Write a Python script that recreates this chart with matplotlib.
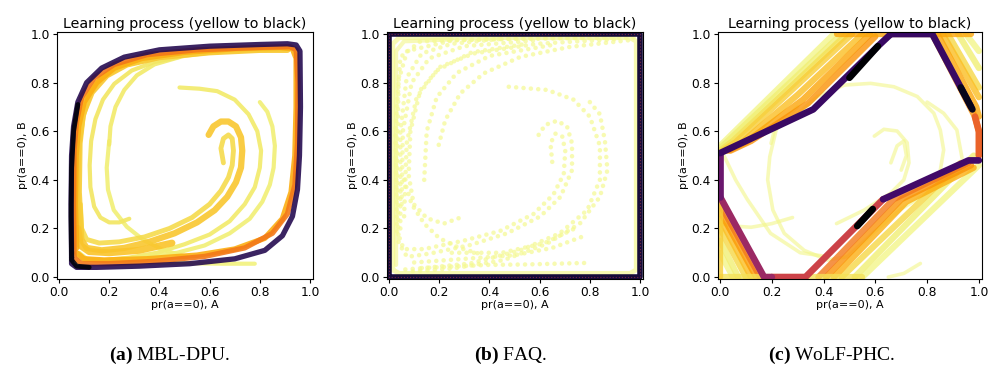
import matplotlib
matplotlib.use("Agg")
import matplotlib.pyplot as plt

plt.rcParams['mathtext.fontset'] = 'custom'
plt.rcParams['mathtext.bf'] = 'Liberation Serif:bold'
plt.rcParams['mathtext.rm'] = 'Liberation Serif'

title = 'Learning process (yellow to black)'
xlabel = 'pr(a==0), A'
ylabel = 'pr(a==0), B'
captions = [r'$\mathbf{(a)}$ MBL-DPU.', r'$\mathbf{(b)}$ FAQ.', r'$\mathbf{(c)}$ WoLF-PHC.']

# ---- (a) MBL-DPU: trajectories, (x, y) waypoints
mbl_start_top = [(0.48, 0.78), (0.56, 0.775), (0.63, 0.765), (0.70, 0.73), (0.755, 0.67), (0.79, 0.60),
                 (0.805, 0.52), (0.80, 0.45), (0.78, 0.37), (0.74, 0.30), (0.68, 0.23), (0.60, 0.175),
                 (0.50, 0.135), (0.39, 0.10), (0.28, 0.08), (0.18, 0.07), (0.11, 0.075), (0.08, 0.10)]
mbl_start_right = [(0.80, 0.72), (0.83, 0.68), (0.85, 0.62), (0.86, 0.54), (0.855, 0.45), (0.84, 0.38),
                   (0.81, 0.31), (0.76, 0.24), (0.68, 0.18), (0.58, 0.13), (0.47, 0.10), (0.36, 0.085),
                   (0.25, 0.075)]
mbl_hook_outer = [(0.596, 0.585), (0.615, 0.62), (0.645, 0.64), (0.675, 0.64), (0.705, 0.62), (0.725, 0.575),
                  (0.73, 0.52), (0.725, 0.45), (0.705, 0.39), (0.67, 0.33), (0.62, 0.275), (0.55, 0.225),
                  (0.46, 0.18), (0.36, 0.145), (0.26, 0.12), (0.17, 0.11), (0.11, 0.12), (0.085, 0.16),
                  (0.075, 0.25), (0.072, 0.40), (0.078, 0.55), (0.095, 0.67), (0.13, 0.76), (0.19, 0.83),
                  (0.27, 0.875), (0.40, 0.905), (0.60, 0.925), (0.80, 0.935), (0.91, 0.935)]
mbl_hook_inner = [(0.655, 0.47), (0.645, 0.53), (0.655, 0.57), (0.675, 0.585), (0.69, 0.57), (0.695, 0.52),
                  (0.69, 0.46), (0.675, 0.41), (0.645, 0.355), (0.60, 0.30), (0.53, 0.245), (0.44, 0.20),
                  (0.34, 0.165), (0.24, 0.145), (0.16, 0.14), (0.11, 0.155), (0.09, 0.20), (0.085, 0.30)]
mbl_start_left = [(0.28, 0.24), (0.24, 0.225), (0.20, 0.225), (0.165, 0.245), (0.14, 0.29), (0.125, 0.37),
                  (0.122, 0.46), (0.128, 0.56), (0.145, 0.65), (0.175, 0.73), (0.22, 0.795), (0.29, 0.85),
                  (0.38, 0.885), (0.50, 0.91), (0.65, 0.93), (0.80, 0.94)]
mbl_start_mid = [(0.20, 0.545), (0.205, 0.62), (0.225, 0.70), (0.26, 0.77), (0.31, 0.83), (0.38, 0.875),
                 (0.48, 0.905)]
mbl_cross = [(0.20, 0.56), (0.19, 0.45), (0.195, 0.36), (0.218, 0.276), (0.27, 0.207), (0.337, 0.152),
             (0.417, 0.111), (0.51, 0.083)]
mbl_start_bottom = [(0.78, 0.055), (0.65, 0.055), (0.50, 0.057), (0.35, 0.06), (0.20, 0.065), (0.10, 0.07),
                    (0.07, 0.09)]
mbl_loop_gold = [(0.09, 0.16), (0.08, 0.35), (0.083, 0.55), (0.095, 0.66), (0.12, 0.75), (0.17, 0.82),
                 (0.25, 0.87), (0.38, 0.905), (0.55, 0.925), (0.75, 0.935), (0.90, 0.94)]
mbl_loop_gold_low = [(0.45, 0.14), (0.32, 0.11), (0.20, 0.10), (0.12, 0.105), (0.085, 0.13), (0.075, 0.20)]
mbl_loop_orange = [(0.07, 0.12), (0.065, 0.30), (0.068, 0.50), (0.078, 0.62), (0.10, 0.72), (0.15, 0.80),
                   (0.22, 0.86), (0.33, 0.90), (0.50, 0.925), (0.70, 0.94), (0.88, 0.945), (0.93, 0.94),
                   (0.945, 0.90), (0.945, 0.70), (0.94, 0.50), (0.925, 0.35), (0.89, 0.24), (0.82, 0.16),
                   (0.70, 0.115), (0.55, 0.09), (0.35, 0.075), (0.18, 0.07), (0.10, 0.075), (0.07, 0.10)]
mbl_loop_late = [(0.06, 0.08), (0.058, 0.30), (0.06, 0.52), (0.07, 0.64), (0.09, 0.74), (0.14, 0.82),
                 (0.22, 0.875), (0.35, 0.915), (0.55, 0.935), (0.80, 0.945), (0.92, 0.948), (0.945, 0.935),
                 (0.952, 0.80), (0.95, 0.55), (0.94, 0.38), (0.91, 0.26), (0.85, 0.18), (0.74, 0.12),
                 (0.58, 0.085), (0.38, 0.065), (0.20, 0.055), (0.09, 0.055), (0.06, 0.08)]
mbl_limit = [(0.05, 0.08), (0.048, 0.30), (0.05, 0.50), (0.058, 0.62), (0.075, 0.72), (0.11, 0.80),
             (0.17, 0.86), (0.26, 0.905), (0.40, 0.935), (0.60, 0.95), (0.80, 0.957), (0.91, 0.96),
             (0.945, 0.955), (0.96, 0.93), (0.962, 0.70), (0.958, 0.50), (0.95, 0.36), (0.93, 0.25),
             (0.89, 0.17), (0.82, 0.11), (0.70, 0.075), (0.52, 0.055), (0.32, 0.045), (0.15, 0.04),
             (0.07, 0.04), (0.05, 0.055), (0.05, 0.08)]
mbl_limit_last = [(0.075, 0.71), (0.058, 0.60), (0.05, 0.45), (0.048, 0.25), (0.05, 0.07), (0.07, 0.045),
                  (0.12, 0.04)]

# (path, colour level 0 = yellow .. 1 = black, width)
mbl_paths = [(mbl_start_top, 0.06, 3.0), (mbl_start_right, 0.05, 3.0), (mbl_cross, 0.05, 3.0),
             (mbl_start_mid, 0.06, 3.0), (mbl_start_bottom, 0.04, 3.0), (mbl_start_left, 0.07, 3.0),
             (mbl_hook_inner, 0.09, 3.5), (mbl_hook_outer, 0.13, 4.5), (mbl_loop_gold, 0.12, 4.0),
             (mbl_loop_gold_low, 0.14, 5.0), (mbl_loop_orange, 0.18, 4.0),
             (mbl_loop_late, 0.3, 3.8), (mbl_limit, 0.86, 3.8), (mbl_limit_last, 0.98, 3.5)]

# ---- (b) FAQ
faq_start_top = [(0.477, 0.783), (0.63, 0.77), (0.735, 0.73), (0.80, 0.66), (0.84, 0.54), (0.84, 0.40),
                 (0.79, 0.276), (0.68, 0.18), (0.523, 0.11), (0.324, 0.056), (0.125, 0.036), (0.045, 0.03)]
faq_start_right = [(0.80, 0.72), (0.84, 0.67), (0.86, 0.56), (0.87, 0.44), (0.84, 0.33), (0.76, 0.22),
                   (0.63, 0.138), (0.457, 0.07), (0.258, 0.036), (0.072, 0.022)]
faq_hook_outer = [(0.596, 0.585), (0.622, 0.626), (0.669, 0.643), (0.709, 0.62), (0.729, 0.55), (0.729, 0.44),
                  (0.683, 0.33), (0.603, 0.25), (0.47, 0.18), (0.324, 0.132), (0.164, 0.097), (0.072, 0.083),
                  (0.038, 0.14), (0.032, 0.47), (0.038, 0.81), (0.072, 0.93), (0.258, 0.975), (0.79, 0.985)]
faq_hook_inner = [(0.65, 0.474), (0.643, 0.55), (0.663, 0.59), (0.69, 0.578), (0.702, 0.52), (0.696, 0.424),
                  (0.655, 0.34), (0.576, 0.26), (0.443, 0.19), (0.298, 0.15), (0.138, 0.115), (0.058, 0.115),
                  (0.032, 0.19), (0.025, 0.60), (0.045, 0.905), (0.125, 0.97), (0.523, 0.982), (0.975, 0.985)]
faq_start_left = [(0.277, 0.242), (0.218, 0.22), (0.151, 0.242), (0.098, 0.30), (0.078, 0.42), (0.085, 0.60),
                  (0.125, 0.77), (0.204, 0.865), (0.337, 0.92), (0.59, 0.96), (0.92, 0.98)]
faq_start_mid = [(0.198, 0.544), (0.224, 0.646), (0.284, 0.756), (0.377, 0.838), (0.523, 0.906), (0.72, 0.947),
                 (0.96, 0.975)]
faq_cross = [(0.06, 0.40), (0.09, 0.30), (0.14, 0.22), (0.20, 0.16), (0.28, 0.12), (0.38, 0.09)]
faq_start_bottom = [(0.777, 0.058), (0.55, 0.052), (0.39, 0.05), (0.125, 0.037)]
faq_upper_1 = [(0.05, 0.30), (0.055, 0.60), (0.09, 0.80), (0.16, 0.90), (0.30, 0.95), (0.60, 0.975)]
faq_upper_2 = [(0.06, 0.25), (0.07, 0.55), (0.11, 0.74), (0.19, 0.85), (0.33, 0.925), (0.55, 0.96)]
faq_upper_3 = [(0.045, 0.20), (0.045, 0.60), (0.07, 0.82), (0.13, 0.92), (0.25, 0.96), (0.45, 0.98)]
faq_upper_4 = [(0.14, 0.40), (0.15, 0.60), (0.19, 0.74), (0.27, 0.84), (0.40, 0.91), (0.65, 0.955)]
faq_lower_1 = [(0.25, 0.10), (0.45, 0.10), (0.62, 0.14), (0.74, 0.20)]
faq_lower_2 = [(0.10, 0.06), (0.30, 0.075), (0.50, 0.09), (0.65, 0.12), (0.78, 0.17)]
faq_band = [(0.015, 0.03), (0.015, 0.96), (0.04, 0.985), (0.96, 0.985), (0.985, 0.97), (0.985, 0.03),
            (0.96, 0.015), (0.04, 0.015), (0.015, 0.03)]
faq_band_left = [(0.028, 0.05), (0.028, 0.93), (0.06, 0.97), (0.25, 0.978)]
faq_limit = [(0.0, 0.0), (0.0, 1.0), (1.0, 1.0), (1.0, 0.0), (0.0, 0.0)]

faq_dotted = [faq_start_top, faq_start_right, faq_hook_outer, faq_hook_inner, faq_start_left,
              faq_start_mid, faq_cross, faq_start_bottom, faq_upper_1, faq_upper_2, faq_upper_3,
              faq_upper_4, faq_lower_1, faq_lower_2]

# ---- (c) WoLF-PHC
wolf_spiral_top = [(0.197, 0.55), (0.21, 0.605), (0.287, 0.66), (0.377, 0.743), (0.48, 0.79), (0.582, 0.797),
                   (0.672, 0.783), (0.762, 0.743), (0.826, 0.674), (0.851, 0.605), (0.864, 0.523),
                   (0.851, 0.44)]
wolf_spiral_box = [(0.30, 0.70), (0.22, 0.62), (0.192, 0.495), (0.184, 0.40), (0.204, 0.276), (0.248, 0.18),
                   (0.325, 0.11), (0.415, 0.07), (0.492, 0.084), (0.60, 0.19), (0.70, 0.28), (0.85, 0.38),
                   (0.93, 0.44)]
wolf_spiral_left = [(0.015, 0.50), (0.06, 0.40), (0.105, 0.32), (0.195, 0.18), (0.31, 0.10), (0.41, 0.085)]
wolf_start_left = [(0.28, 0.245), (0.20, 0.22), (0.12, 0.205), (0.05, 0.21), (0.0, 0.22)]
wolf_hook = [(0.596, 0.58), (0.633, 0.608), (0.684, 0.601), (0.723, 0.553), (0.73, 0.47), (0.71, 0.40),
             (0.66, 0.346), (0.556, 0.275), (0.45, 0.22)]
wolf_hook_inner = [(0.66, 0.47), (0.684, 0.54), (0.71, 0.56), (0.72, 0.50), (0.70, 0.44)]
wolf_start_right = [(0.80, 0.72), (0.864, 0.674), (0.915, 0.605), (0.935, 0.49)]
wolf_start_bottom = [(0.774, 0.056), (0.71, 0.015), (0.65, 0.0)]

wolf_thin = [wolf_spiral_top, wolf_spiral_box, wolf_spiral_left, wolf_start_left, wolf_hook,
             wolf_hook_inner, wolf_start_right, wolf_start_bottom]

wolf_band = [
    ([(0.0, 0.54), (0.44, 1.0)], 0.03), ([(0.0, 0.53), (0.47, 1.0)], 0.05),
    ([(0.0, 0.52), (0.05, 0.56), (0.49, 1.0)], 0.08), ([(0.01, 0.52), (0.06, 0.555), (0.51, 1.0)], 0.12),
    ([(0.02, 0.52), (0.08, 0.55), (0.30, 0.75), (0.55, 1.0)], 0.15),
    ([(0.03, 0.52), (0.10, 0.555), (0.32, 0.73), (0.58, 1.0)], 0.2),
    ([(0.04, 0.52), (0.12, 0.56), (0.34, 0.715), (0.60, 0.99)], 0.24),
    ([(0.95, 1.0), (1.0, 0.93)], 0.03), ([(0.92, 1.0), (1.0, 0.86)], 0.05), ([(0.88, 1.0), (1.0, 0.78)], 0.1),
    ([(0.86, 1.0), (1.0, 0.74)], 0.15), ([(0.84, 1.0), (0.99, 0.70), (1.0, 0.66)], 0.2),
    ([(0.82, 1.0), (0.985, 0.66), (1.0, 0.60)], 0.24), ([(0.45, 1.0), (0.97, 1.0)], 0.2),
    ([(0.55, 0.0), (1.0, 0.46)], 0.03), ([(0.52, 0.0), (0.98, 0.50)], 0.05), ([(0.47, 0.0), (0.93, 0.47)], 0.1),
    ([(0.44, 0.0), (0.72, 0.31), (0.98, 0.45)], 0.18), ([(0.41, 0.0), (0.70, 0.32), (0.97, 0.46)], 0.24),
    ([(0.38, 0.0), (0.67, 0.32), (0.96, 0.47)], 0.3),
    ([(0.0, 0.10), (0.05, 0.0)], 0.03), ([(0.0, 0.15), (0.07, 0.0)], 0.05), ([(0.0, 0.20), (0.10, 0.0)], 0.1),
    ([(0.0, 0.24), (0.12, 0.0)], 0.15), ([(0.0, 0.27), (0.14, 0.0)], 0.22),
    ([(0.0, 0.30), (0.155, 0.0)], 0.3), ([(0.0, 0.0), (0.55, 0.0)], 0.08), ([(0.0, 0.0), (0.0, 0.5)], 0.12),
]
wolf_cycle = [
    ([(0.63, 0.32), (0.33, 0.0), (0.20, 0.0)], 0.45), ([(0.20, 0.0), (0.17, 0.0), (0.0, 0.33)], 0.58),
    ([(0.0, 0.33), (0.0, 0.51)], 0.7), ([(0.0, 0.51), (0.08, 0.55), (0.36, 0.69), (0.61, 0.95), (0.66, 1.0)], 0.82),
    ([(0.66, 1.0), (0.82, 1.0), (0.97, 0.70)], 0.82), ([(0.985, 0.66), (1.0, 0.60), (1.0, 0.50)], 0.35),
    ([(1.0, 0.48), (0.96, 0.48), (0.63, 0.32)], 0.8), ([(0.50, 0.82), (0.61, 0.95)], 1.0),
    ([(0.93, 0.78), (0.975, 0.69)], 0.95), ([(0.53, 0.21), (0.59, 0.28)], 1.0),
]

cmap = plt.get_cmap('inferno_r')


def draw(ax, pts, level, lw, alpha=1.0, ls='-'):
    xs = [p[0] for p in pts]
    ys = [p[1] for p in pts]
    ax.plot(xs, ys, color=cmap(level), lw=lw, alpha=alpha, ls=ls,
            solid_capstyle='round', solid_joinstyle='round', dash_capstyle='round')


fig = plt.figure(figsize=(9.95, 3.68), dpi=100)
axes = [fig.add_axes([0.0573, 0.2418, 0.2573, 0.671]),
        fig.add_axes([0.389, 0.2418, 0.2573, 0.671]),
        fig.add_axes([0.7216, 0.2418, 0.2653, 0.671])]

# (a)
ax = axes[0]
for path, level, lw in mbl_paths:
    draw(ax, path, level, lw, alpha=0.9)

# (b)
ax = axes[1]
draw(ax, faq_band, 0.02, 3.5, alpha=0.7)
draw(ax, faq_band_left, 0.03, 3.0, alpha=0.6)
for path in faq_dotted:
    draw(ax, path, 0.02, 3.3, alpha=0.7, ls=(0, (0.01, 1.6)))
draw(ax, faq_limit, 0.9, 4.0)
draw(ax, faq_limit, 0.45, 1.0, alpha=0.5, ls=(0, (0.01, 2.2)))

# (c)
ax = axes[2]
for path in wolf_thin:
    draw(ax, path, 0.03, 2.6, alpha=0.6)
for path, level in wolf_band:
    draw(ax, path, level, 4.5, alpha=0.8)
for path, level in wolf_cycle:
    draw(ax, path, level, 4.8)

for ax in axes:
    ax.set_xlim(-0.008, 1.012)
    ax.set_ylim(-0.008, 1.008)
    ax.set_title(title, fontsize=10.3, pad=3)
    ax.set_xlabel(xlabel, fontsize=8, labelpad=1)
    ax.set_ylabel(ylabel, fontsize=8, labelpad=2)
    ax.tick_params(labelsize=8.8, length=3, pad=2)

for cx, cap in zip([0.170, 0.513, 0.836], captions):
    fig.text(cx, 0.035, cap, ha='center', va='center', fontsize=14, family='Liberation Serif')

fig.savefig('out.png', dpi=100, facecolor='white')
